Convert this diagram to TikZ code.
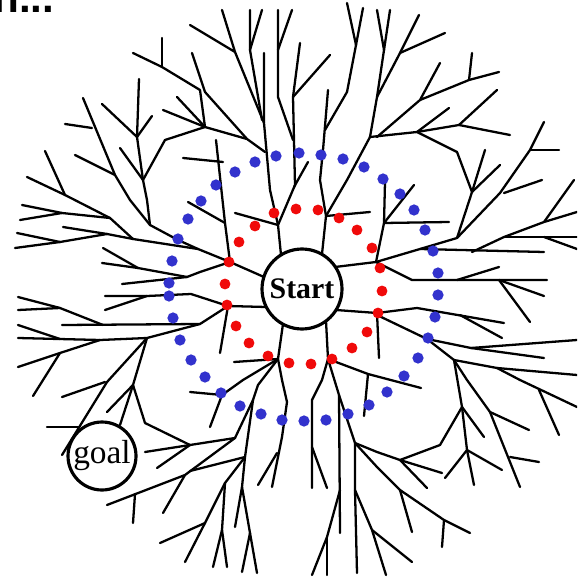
\documentclass[tikz,border=0pt]{standalone}
\usepackage{fontspec}
\setmainfont{Liberation Serif}
\newfontfamily\headfont{Liberation Sans}
\definecolor{dotred}{RGB}{240,10,10}
\definecolor{dotblue}{RGB}{50,50,205}
\tikzset{
  branch/.style={line width=1.3pt, line cap=round, line join=round},
  bignode/.style={circle, draw, line width=1.8pt, fill=white, inner sep=0pt},
  reddot/.style={fill=dotred},
  bluedot/.style={fill=dotblue}
}
\begin{document}
\begin{tikzpicture}[x=0.02cm, y=-0.02cm]
  \useasboundingbox (0,0) rectangle (577,580);
  \clip (0,0) rectangle (577,580);
  % ust baslik (kesik)
  \node[anchor=base west, inner sep=0pt, font=\headfont\bfseries\fontsize{24}{24}\selectfont] (head) at (-7,13) {n...};
  % dallar: sol ust
  \draw[branch] (133,53) -- (162,67) -- (200,90) -- (205,127) -- (247,139) -- (265,152);
  \draw[branch] (162,38) -- (162,67);
  \draw[branch] (192,53) -- (205,92) -- (247,139);
  \draw[branch] (163,110) -- (205,127);
  \draw[branch] (177,97) -- (205,127) -- (165,140) -- (143,180);
  \draw[branch] (139,79) -- (137,137) -- (143,180) -- (147,200) -- (150,225);
  \draw[branch] (102,104) -- (137,137);
  \draw[branch] (152,116) -- (137,137);
  \draw[branch] (120,148) -- (143,180);
  \draw[branch] (83,98) -- (115,175) -- (130,200) -- (150,225);
  \draw[branch] (65,124) -- (92,128);
  \draw[branch] (75,155) -- (115,175);
  \draw[branch] (45,151) -- (65,195) -- (110,218) -- (133,239);
  \draw[branch] (27,177) -- (65,195);
  \draw[branch] (22,205) -- (62,213) -- (110,218);
  \draw[branch] (20,220) -- (62,213);
  \draw[branch] (17,233) -- (60,242) -- (107,234) -- (133,239);
  \draw[branch] (15,248) -- (60,242);
  \draw[branch] (63,227) -- (107,234);
  \draw[branch] (133,239) -- (198,249) -- (230,262) -- (264,277);
  \draw[branch] (150,225) -- (178,240) -- (198,249);
  \draw[branch] (183,158) -- (223,162);
  \draw[branch] (216,140) -- (225,223) -- (230,262);
  \draw[branch] (188,202) -- (225,223);
  \draw[branch] (103,248) -- (138,268) -- (187,277) -- (200,272) -- (230,262);
  \draw[branch] (102,263) -- (138,268);
  \draw[branch] (122,284) -- (187,277);
  % dallar: sol orta
  \draw[branch] (266,307) -- (228,306) -- (191,294) -- (147,296) -- (105,296);
  \draw[branch] (105,310) -- (147,296);
  \draw[branch] (228,306) -- (200,324) -- (147,338) -- (100,340) -- (18,338);
  \draw[branch] (200,324) -- (62,325);
  \draw[branch] (18,297) -- (60,308) -- (103,325);
  \draw[branch] (18,310) -- (60,308);
  \draw[branch] (18,325) -- (60,339);
  \draw[branch] (100,340) -- (60,353) -- (18,367);
  \draw[branch] (60,353) -- (33,396);
  \draw[branch] (147,338) -- (107,382) -- (62,455);
  \draw[branch] (62,397) -- (105,382);
  \draw[branch] (47,427) -- (79,427);
  \draw[branch] (147,338) -- (133,385);
  \draw[branch] (228,306) -- (220,353);
  % dallar: sol alt
  \draw[branch] (133,385) -- (107,412);
  \draw[branch] (133,385) -- (120,425);
  \draw[branch] (133,385) -- (145,423) -- (190,445) -- (235,438);
  \draw[branch] (145,452) -- (190,445);
  \draw[branch] (157,468) -- (190,445);
  \draw[branch] (107,505) -- (185,475) -- (235,438);
  \draw[branch] (135,494) -- (133,523);
  \draw[branch] (185,475) -- (163,513);
  \draw[branch] (190,471) -- (245,457);
  \draw[branch] (235,438) -- (253,400) -- (258,385) -- (278,359);
  \draw[branch] (253,400) -- (245,457) -- (242,487) -- (235,527);
  \draw[branch] (242,487) -- (250,533) -- (257,573);
  \draw[branch] (250,533) -- (242,572);
  \draw[branch] (245,457) -- (225,483) -- (205,523) -- (160,543);
  \draw[branch] (205,523) -- (185,562);
  \draw[branch] (225,483) -- (222,530) -- (213,567);
  \draw[branch] (222,530) -- (227,567);
  \draw[branch] (278,359) -- (243,380) -- (222,395) -- (190,392);
  \draw[branch] (222,395) -- (210,427);
  \draw[branch] (234,362) -- (278,359) -- (283,324);
  \draw[branch] (278,359) -- (282,380) -- (287,402) -- (282,437) -- (272,487);
  \draw[branch] (277,453) -- (258,485);
  % dallar: sag alt
  \draw[branch] (326,321) -- (328,359) -- (368,374) -- (421,388);
  \draw[branch] (368,374) -- (364,416);
  \draw[branch] (328,359) -- (322,380) -- (312,400) -- (312,488);
  \draw[branch] (312,447) -- (327,488);
  \draw[branch] (328,359) -- (339,395) -- (340,533);
  \draw[branch] (339,395) -- (355,443) -- (377,452) -- (400,460) -- (442,473);
  \draw[branch] (400,460) -- (427,488);
  \draw[branch] (355,443) -- (377,467) -- (400,490) -- (444,520) -- (470,533);
  \draw[branch] (400,490) -- (412,532);
  \draw[branch] (444,520) -- (442,547);
  \draw[branch] (355,443) -- (355,490) -- (357,573);
  \draw[branch] (355,490) -- (372,530) -- (386,575);
  \draw[branch] (372,530) -- (412,562);
  \draw[branch] (340,490) -- (327,537) -- (312,575);
  \draw[branch] (327,537) -- (327,575);
  \draw[branch] (336,310) -- (377,313) -- (417,308) -- (504,323);
  \draw[branch] (460,315) -- (502,338);
  \draw[branch] (377,313) -- (379,358);
  \draw[branch] (377,315) -- (427,339) -- (454,360);
  \draw[branch] (427,339) -- (471,348) -- (544,358);
  \draw[branch] (471,348) -- (577,340);
  \draw[branch] (454,360) -- (497,368) -- (520,380) -- (577,407);
  \draw[branch] (497,368) -- (577,375);
  \draw[branch] (539,390) -- (559,435);
  \draw[branch] (454,360) -- (462,407) -- (440,445) -- (400,460);
  \draw[branch] (462,407) -- (467,450) -- (474,485);
  \draw[branch] (467,450) -- (502,470);
  \draw[branch] (467,450) -- (445,478);
  \draw[branch] (462,407) -- (484,437);
  \draw[branch] (454,360) -- (467,380) -- (490,412) -- (529,430);
  \draw[branch] (490,412) -- (520,487);
  \draw[branch] (510,457) -- (539,462);
  % dallar: sag
  \draw[branch] (335,267) -- (376,262) -- (420,249) -- (457,238) -- (472,192);
  \draw[branch] (417,132) -- (457,152) -- (472,192);
  \draw[branch] (485,150) -- (472,192);
  \draw[branch] (500,165) -- (472,192);
  \draw[branch] (457,238) -- (500,193) -- (530,150) -- (544,122);
  \draw[branch] (530,150) -- (559,150);
  \draw[branch] (542,180) -- (504,193);
  \draw[branch] (420,249) -- (544,252);
  \draw[branch] (472,252) -- (504,237) -- (544,222) -- (577,212);
  \draw[branch] (504,237) -- (577,237);
  \draw[branch] (544,237) -- (577,249);
  \draw[branch] (544,222) -- (574,180);
  \draw[branch] (376,262) -- (412,280) -- (547,280);
  \draw[branch] (457,280) -- (499,267);
  \draw[branch] (499,280) -- (544,296);
  \draw[branch] (499,280) -- (530,322);
  \draw[branch] (376,262) -- (384,223) -- (385,182);
  \draw[branch] (414,185) -- (384,223) -- (449,222);
  % dallar: sag ust
  \draw[branch] (322,254) -- (326,216) -- (370,212);
  \draw[branch] (326,216) -- (320,180) -- (323,150) -- (328,90);
  \draw[branch] (347,3) -- (356,45) -- (347,92) -- (325,130);
  \draw[branch] (363,8) -- (356,45);
  \draw[branch] (326,216) -- (347,180) -- (370,137) -- (417,132) -- (459,125) -- (510,135);
  \draw[branch] (370,137) -- (377,97) -- (384,50) -- (377,10);
  \draw[branch] (390,10) -- (384,50);
  \draw[branch] (377,97) -- (400,53) -- (419,15);
  \draw[branch] (445,33) -- (400,53);
  \draw[branch] (440,63) -- (420,100) -- (377,137);
  \draw[branch] (499,72) -- (469,80) -- (420,100);
  \draw[branch] (472,53) -- (469,80);
  \draw[branch] (449,108) -- (417,132);
  \draw[branch] (497,90) -- (459,125);
  % dallar: ust
  \draw[branch] (281,255) -- (278,225) -- (235,213);
  \draw[branch] (278,225) -- (270,190) -- (264,123) -- (264,53);
  \draw[branch] (235,52) -- (264,123);
  \draw[branch] (190,25) -- (235,52) -- (222,10);
  \draw[branch] (250,10) -- (250,50) -- (262,120);
  \draw[branch] (262,10) -- (250,50);
  \draw[branch] (278,225) -- (295,185) -- (293,97) -- (300,43);
  \draw[branch] (308,162) -- (294,187);
  \draw[branch] (330,55) -- (293,97);
  \draw[branch] (278,10) -- (278,50) -- (278,97) -- (293,140);
  \draw[branch] (292,10) -- (278,50);
  % baslangic ve hedef
  \node[bignode, minimum size=1.6cm, font=\bfseries\fontsize{17}{17}\selectfont] (start) at (302,289) {Start};
  \node[bignode, minimum size=1.36cm, font=\fontsize{19}{19}\selectfont] (goal) at (102,456) {goal};
  % kirmizi halka
  \foreach \p in {(274,213),(296,209),(318,210),(339,218),(357,230),(372,248),(380,268),(382,291),(378,313),(367,332),(352,348),(332,359),(311,364),(289,363),(268,356),(249,343),(236,326),(227,305),(225,284),(229,262),(239,242),(255,226)}
    \fill[reddot] \p circle (3.1pt);
  % mavi halka
  \foreach \p in {(255,162),(276,156),(299,153),(321,155),(343,159),(364,167),(383,179),(400,194),(414,210),(425,230),(433,251),(438,273),(438,295),(435,317),(428,338),(418,358),(404,376),(387,392),(369,405),(348,414),(326,420),(304,421),(282,420),(261,414),(240,406),(221,393),(205,377),(191,360),(180,340),(173,318),(169,296),(169,283),(172,261),(178,239),(188,219),(201,201),(216,185),(235,172)}
    \fill[bluedot] \p circle (3.2pt);
\end{tikzpicture}
\end{document}
